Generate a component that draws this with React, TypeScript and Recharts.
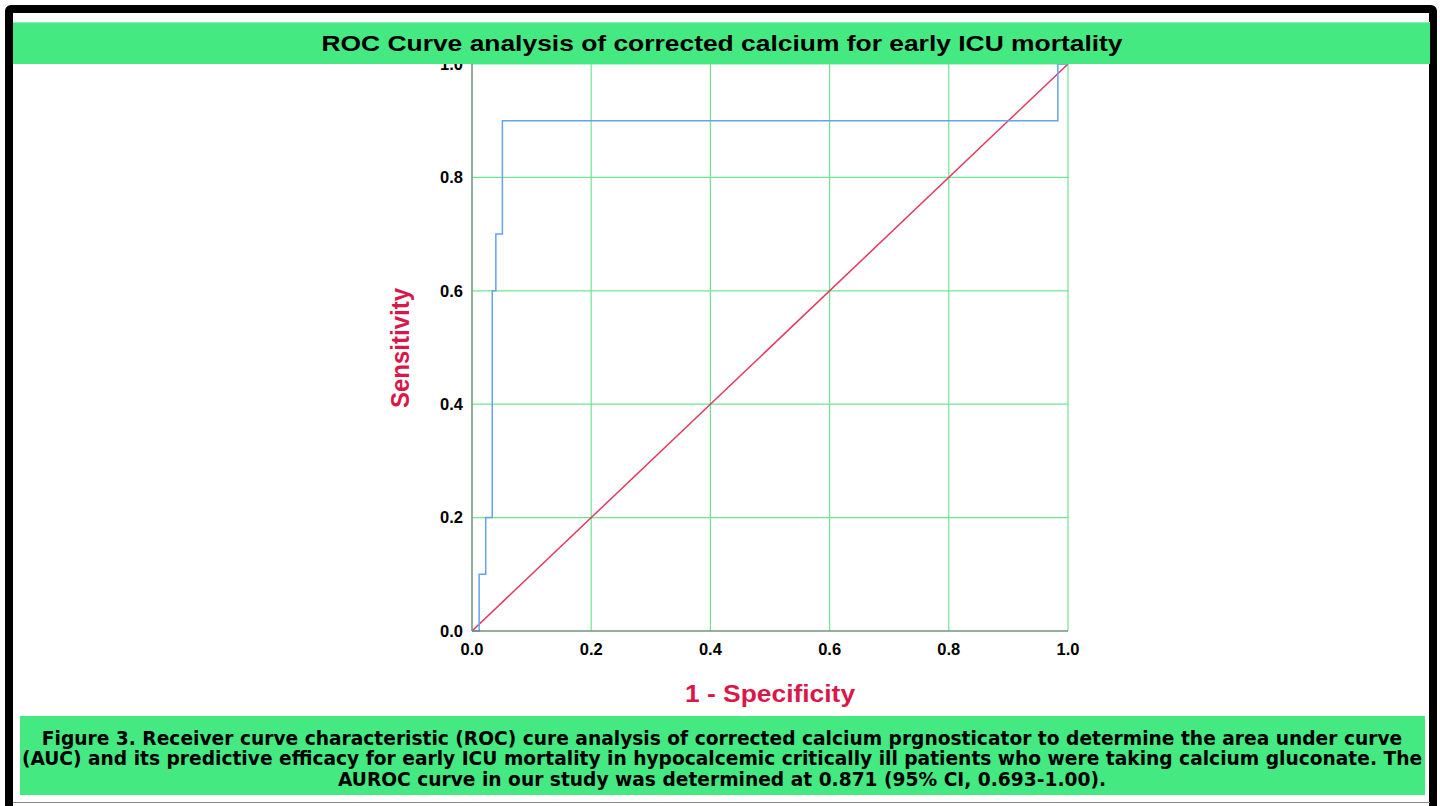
import React from 'react';
import { LineChart, Line, XAxis, YAxis, CartesianGrid } from 'recharts';

const TITLE = 'ROC Curve analysis of corrected calcium for early ICU mortality';
const X_LABEL = '1 - Specificity';
const Y_LABEL = 'Sensitivity';
const CAPTION_LINES = [
  'Figure 3. Receiver curve characteristic (ROC) cure analysis of corrected calcium prgnosticator to determine the area under curve',
  '(AUC) and its predictive efficacy for early ICU mortality in hypocalcemic critically ill patients who were taking calcium gluconate. The',
  'AUROC curve in our study was determined at 0.871 (95% CI, 0.693-1.00).',
];

const TICKS = [0, 0.2, 0.4, 0.6, 0.8, 1.0];

// ROC step curve (1 - specificity, sensitivity)
const rocFpr = [0, 0.012, 0.012, 0.023, 0.023, 0.034, 0.034, 0.04, 0.04, 0.051, 0.051, 0.983, 0.983, 1.0];
const rocTpr = [0, 0, 0.1, 0.1, 0.2, 0.2, 0.6, 0.6, 0.7, 0.7, 0.9, 0.9, 1.0, 1.0];

// Reference diagonal
const refFpr = [0, 1];
const refTpr = [0, 1];

const rocData = rocFpr.map((x, i) => ({ x, y: rocTpr[i] }));
const refData = refFpr.map((x, i) => ({ x, y: refTpr[i] }));

const GREEN = '#44E982';
const RED = '#D9184A';
const SANS = "'Liberation Sans', Arial, sans-serif";

export default function App() {
  const W = 1440;
  const H = 806;
  const plotLeft = 472;
  const plotRight = 1068;
  const plotTop = 64;
  const plotBottom = 631;
  const yAxisW = 60;
  const xAxisH = 30;
  const tickStyle = { fill: '#000', fontSize: 16.5, fontWeight: 700, fontFamily: SANS };
  return (
    <div style={{ position: 'absolute', left: 0, top: 0, width: W, height: H, background: '#fff', overflow: 'hidden', fontFamily: SANS }}>
      {/* frame */}
      <div style={{ position: 'absolute', left: 5, top: 5, width: 1432, height: 820, border: '8px solid #000', borderRadius: 6, boxSizing: 'border-box' }} />
      <div style={{ position: 'absolute', left: 13, top: 802, width: 1417, height: 1, background: '#888' }} />
      <div style={{ position: 'absolute', left: 0, top: 0 }}>
        <LineChart
          width={W}
          height={H}
          margin={{ top: plotTop, right: W - plotRight, bottom: H - plotBottom - xAxisH, left: plotLeft - yAxisW }}
        >
          <CartesianGrid stroke="#72E396" strokeWidth={1.2} horizontalValues={TICKS} verticalValues={TICKS} />
          <XAxis
            type="number"
            dataKey="x"
            domain={[0, 1]}
            ticks={TICKS}
            tickFormatter={(v: number) => v.toFixed(1)}
            height={xAxisH}
            tickLine={false}
            tickMargin={6}
            stroke="#707070"
            tick={tickStyle}
            allowDuplicatedCategory={false}
          />
          <YAxis
            type="number"
            dataKey="y"
            domain={[0, 1]}
            ticks={TICKS}
            tickFormatter={(v: number) => v.toFixed(1)}
            width={yAxisW}
            tickLine={false}
            tickMargin={3}
            stroke="#707070"
            tick={tickStyle}
          />
          <Line data={refData} dataKey="y" type="linear" stroke="#E23A5C" strokeWidth={1.5} dot={false} isAnimationActive={false} />
          <Line data={rocData} dataKey="y" type="linear" stroke="#64A2F0" strokeWidth={1.5} dot={false} isAnimationActive={false} />
        </LineChart>
      </div>
      {/* title bar */}
      <div style={{ position: 'absolute', left: 13, top: 22, width: 1417, height: 42, background: GREEN, borderTop: '1px solid #8ef0b0', boxSizing: 'border-box' }}>
        <div style={{ position: 'absolute', left: 709, top: 21, transform: 'translate(-50%, -50%) scaleX(1.2)', whiteSpace: 'nowrap', fontSize: 22, fontWeight: 700, color: '#000' }}>
          {TITLE}
        </div>
      </div>
      {/* axis titles */}
      <div style={{ position: 'absolute', left: 400, top: 348, transform: 'translate(-50%, -50%) rotate(-90deg) scaleY(1.1)', whiteSpace: 'nowrap', color: RED, fontSize: 24, fontWeight: 700 }}>
        {Y_LABEL}
      </div>
      <div style={{ position: 'absolute', left: 770, top: 694, transform: 'translate(-50%, -50%) scaleX(1.1)', whiteSpace: 'nowrap', color: RED, fontSize: 24, fontWeight: 700 }}>
        {X_LABEL}
      </div>
      {/* caption */}
      <div style={{ position: 'absolute', left: 20, top: 716, width: 1405, height: 79, background: GREEN }}>
        {CAPTION_LINES.map((l, i) => (
          <div key={i} style={{ position: 'absolute', left: 702, top: 22.5 + i * 20.5, transform: 'translate(-50%, -50%) scaleX(1.062)', whiteSpace: 'nowrap', fontFamily: "'Liberation Sans Narrow', 'DejaVu Sans Condensed', sans-serif", fontSize: 19.5, fontWeight: 700, lineHeight: '20px', color: '#000' }}>
            {l}
          </div>
        ))}
      </div>
    </div>
  );
}
